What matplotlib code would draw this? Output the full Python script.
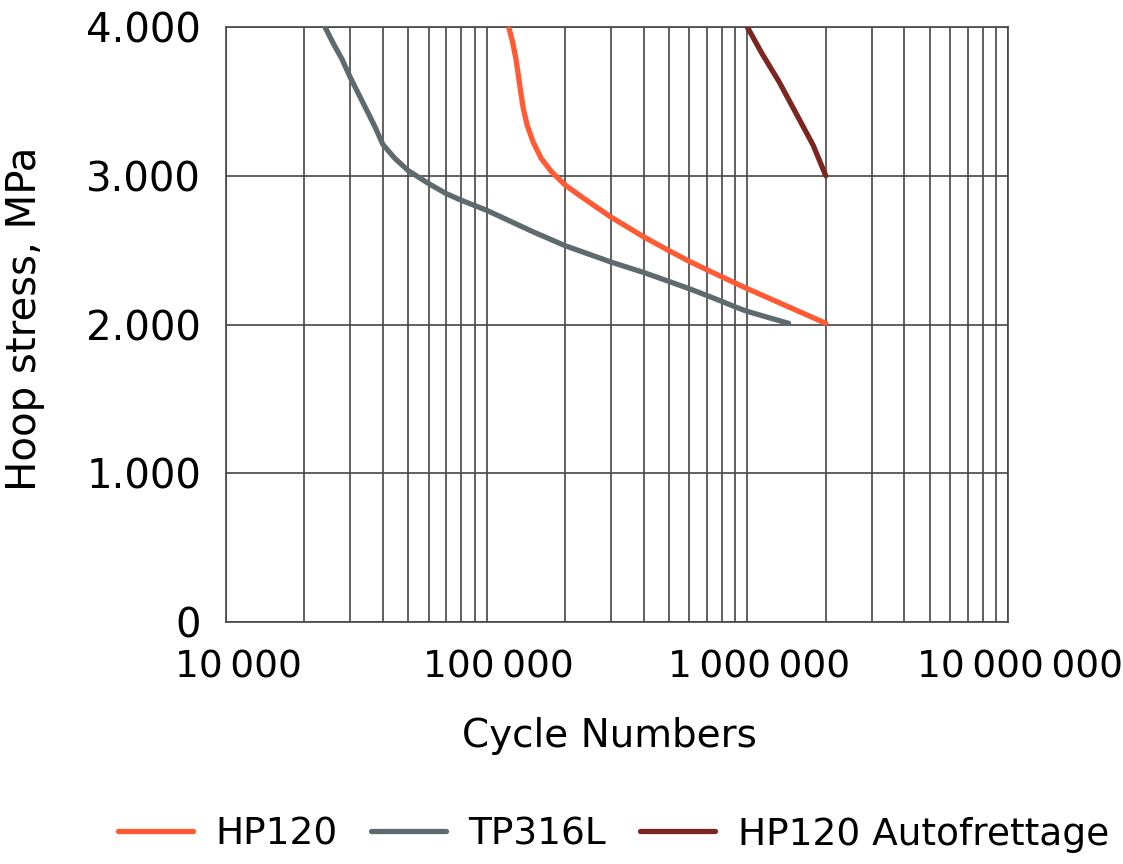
import matplotlib
matplotlib.use('Agg')
import matplotlib.pyplot as plt
import matplotlib.transforms as mtransforms
from matplotlib.ticker import FixedLocator, NullLocator

# values (cycles, MPa)
hp120_cycles = [121500, 125700, 129400, 132300, 135100, 138200, 143000, 150600, 161900,
                177300, 200000, 238400, 300000, 400000, 500000, 600000, 700000,
                800000, 900000, 1000000, 1500000, 2000000]
hp120_stress = [4000, 3901, 3790, 3677, 3565, 3453, 3341, 3229, 3117,
                3027, 2938, 2842, 2722, 2590, 2497, 2424, 2368,
                2320, 2278, 2241, 2105, 2008]

tp316l_cycles = [23980, 25800, 27800, 29900, 32200, 34650, 37280, 40000, 44460, 50000,
                 60000, 70000, 80000, 90000, 100000, 150000, 200000, 300000, 400000,
                 500000, 600000, 700000, 800000, 900000, 1000000, 1440000]
tp316l_stress = [4000, 3890, 3788, 3666, 3553, 3442, 3330, 3210, 3117, 3035,
                 2947, 2880, 2835, 2800, 2768, 2625, 2530, 2420, 2350,
                 2290, 2240, 2195, 2155, 2118, 2088, 2008]

auto_cycles = [1000000, 1138000, 1324000, 1539000, 1788000, 2000000]
auto_stress = [4000, 3822, 3632, 3419, 3206, 3000]

y_ticks = [0, 1000, 2000, 3000, 4000]
y_labels = ['0', '1.000', '2.000', '3.000', '4.000']
x_ticks = [1e4, 1e5, 1e6, 1e7]
x_labels = ['10\u2009000', '100\u2009000', '1\u2009000\u2009000', '10\u2009000\u2009000']

plt.rcParams['font.family'] = ['DejaVu Sans']

fig = plt.figure(figsize=(11.23, 8.64), dpi=100)
ax = fig.add_axes([0.2012, 0.2801, 0.6964, 0.6886])

ax.set_xscale('log')
ax.set_xlim(1e4, 1e7)
ax.set_ylim(0, 4000)

gridcol = '#464646'
minor = [m * 10**e for e in range(4, 7) for m in range(2, 10)]
for v in minor + x_ticks:
    ax.axvline(v, color=gridcol, lw=1.2, zorder=1)
for v in y_ticks:
    ax.axhline(v, color=gridcol, lw=1.2, zorder=1)
for s in ax.spines.values():
    s.set_color(gridcol)
    s.set_linewidth(1.2)

ax.plot(hp120_cycles, hp120_stress, color='#ff5a33', lw=3.8, label='HP120', zorder=3,
        solid_capstyle='round', solid_joinstyle='round')
ax.plot(tp316l_cycles, tp316l_stress, color='#5e6a6e', lw=3.8, label='TP316L', zorder=3,
        solid_capstyle='round', solid_joinstyle='round')
ax.plot(auto_cycles, auto_stress, color='#7b2621', lw=3.8, label='HP120 Autofrettage', zorder=3,
        solid_capstyle='round', solid_joinstyle='round')

ax.xaxis.set_major_locator(FixedLocator(x_ticks))
ax.xaxis.set_minor_locator(NullLocator())
ax.set_xticklabels(x_labels, fontsize=27)
ax.set_yticks(y_ticks)
ax.set_yticklabels(y_labels, fontsize=29)
ax.tick_params(axis='both', length=0)
ax.tick_params(axis='x', pad=20)
ax.tick_params(axis='y', pad=18)

# labels in the reference sit a little right of their ticks
shift = mtransforms.ScaledTranslation(0.12, 0, fig.dpi_scale_trans)
for lab in ax.get_xticklabels():
    lab.set_transform(lab.get_transform() + shift)

ax.set_xlabel('Cycle Numbers', fontsize=28)
ax.xaxis.set_label_coords(0.49, -0.16)
ax.set_ylabel('Hoop stress, MPa', fontsize=29)
ax.yaxis.set_label_coords(-0.232, 0.51)

fig.legend(loc='center', bbox_to_anchor=(0.546, 0.034), ncol=3, frameon=False,
           fontsize=27, handlelength=2.0, handletextpad=0.6, columnspacing=0.9)

plt.savefig('out.png', dpi=100)
